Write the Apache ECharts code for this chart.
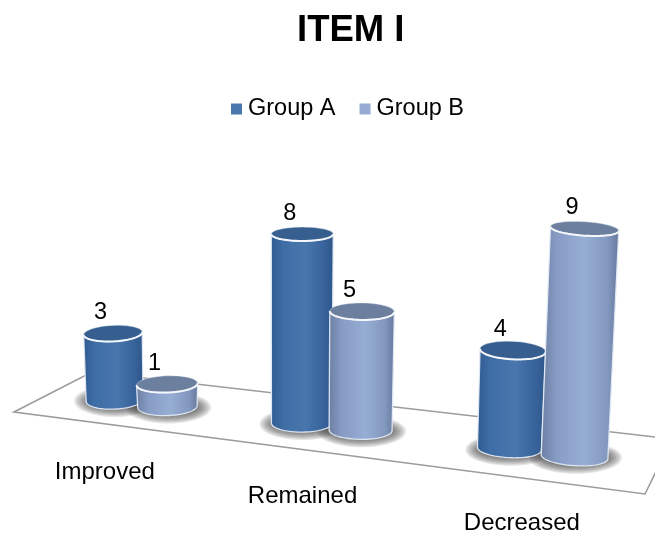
<!DOCTYPE html>
<html><head><meta charset="utf-8">
<style>html,body{margin:0;padding:0;background:#fff}#c{width:655px;height:536px}</style>
<script src="https://cdn.jsdelivr.net/npm/echarts@6/dist/echarts.min.js"></script>
</head><body><div id="c"></div>
<script>
var categories = ['Improved', 'Remained', 'Decreased'];
var groupA = [3, 8, 4];
var groupB = [1, 5, 9];
var titleText = 'ITEM I';
var FONT = '"Liberation Sans", Arial, sans-serif';

// perspective projection of the flat cartesian grid onto the tilted floor
function warpX(x){ return x + 2.6e-4*(x-140)*(x-540) + 0.0025*(x-140) + 0.8; }
function floorY(x){ return 386 + 0.123*x; }
function heightScale(x){ return 0.97 + 0.00025*(x-114); }
function pt(cx,cy,rx,ry,r,t){
  return [cx + rx*Math.cos(t)*Math.cos(r) - ry*Math.sin(t)*Math.sin(r),
          cy + rx*Math.cos(t)*Math.sin(r) + ry*Math.sin(t)*Math.cos(r)];
}
function arc(cx,cy,rx,ry,r,a,b){
  var out=[], n=48;
  for(var i=0;i<=n;i++) out.push(pt(cx,cy,rx,ry,r,a+(b-a)*i/n));
  return out;
}
function project(api, side){
  var p = api.coord([api.value(0), api.value(1)]);
  var p0 = api.coord([api.value(0), 0]);
  var x = warpX(p[0] + side*api.size([1,0])[0]*0.147);
  var h0 = (p0[1]-p[1])*heightScale(x);
  var h = h0*(1+(h0-100)*0.00012);
  var base = floorY(x);
  var w = 57 + 0.018*(x-114) + (side>0?1.5:0);
  return {x:x, h:h, base:base, w:w, rot:(x-310)*0.014*Math.PI/180,
          topX:x+(x-280)*h*1.5e-4, topY:base-h};
}
function cylinder(side, stops, topColor){
  return function(params, api){
    var g = project(api, side);
    var rxB = g.w/2, rxT = g.w/2+0.8;
    var ryB = 9, ryT = 0.14*g.w*(1-Math.max(0,g.h-100)*0.002);
    var bottom = arc(g.x,g.base,rxB,ryB,g.rot,0,Math.PI);
    var topFront = arc(g.topX,g.topY,rxT,ryT,g.rot,Math.PI,0);
    var topAll = arc(g.topX,g.topY,rxT,ryT,g.rot,0,Math.PI*2);
    return {type:'group', children:[
      {type:'polygon', shape:{points:bottom.concat(topFront)},
       style:{fill:new echarts.graphic.LinearGradient(0,0,1,0,stops),
              stroke:'rgba(225,234,244,0.95)', lineWidth:1.3}},
      {type:'polygon', shape:{points:topAll}, style:{fill:topColor, stroke:'rgba(225,234,244,0.5)', lineWidth:0.8}},
      {type:'polyline', shape:{points:topFront}, style:{fill:null, stroke:'#f4f7fb', lineWidth:2}},
      {type:'text', style:{text:String(api.value(1)), x:g.topX-12.5, y:g.topY-21, fill:'#000',
        font:'23.5px '+FONT, textAlign:'center', textVerticalAlign:'middle', align:'center', verticalAlign:'middle'}}
    ]};
  };
}
function shadow(side){
  return function(params, api){
    var g = project(api, side), rings = [];
    for (var k = 0; k < 8; k++) {
      rings.push({type:'ellipse', shape:{cx:g.x+1, cy:g.base+1, rx:g.w/2+13-k*2, ry:16-k*1.2},
        style:{fill:'rgba(60,60,60,0.13)'}});
    }
    return {type:'group', children:rings};
  };
}
function catLabel(params, api){
  var x = warpX(api.coord([api.value(0),0])[0]);
  var lx = x - 36 + 0.04*(x-140);
  return {type:'text', style:{text:categories[api.value(0)], x:lx, y:floorY(lx)+73, fill:'#000',
    font:'24px '+FONT, textAlign:'center', textVerticalAlign:'middle', align:'center', verticalAlign:'middle'}};
}
var rowsA = groupA.map(function(v,i){return [i,v];});
var rowsB = groupB.map(function(v,i){return [i,v];});
var stopsA = [{offset:0,color:'#2f5b90'},{offset:0.2,color:'#3f6da5'},{offset:0.55,color:'#4876ad'},{offset:0.85,color:'#37629a'},{offset:1,color:'#2d5788'}];
var stopsB = [{offset:0,color:'#6b7da1'},{offset:0.2,color:'#879cc4'},{offset:0.55,color:'#96add4'},{offset:0.85,color:'#8398bf'},{offset:1,color:'#65779a'}];
var COLOR_A = '#4876ad', COLOR_B = '#95abd3';
function mk(name, data, fn, z, color){
  return {name:name, type:'custom', data:data, renderItem:fn, z:z, silent:true,
    encode:{x:0,y:1}, itemStyle:{color:color}, clip:false};
}
var chart = echarts.init(document.getElementById('c'), null, {renderer:'canvas'});
chart.setOption({
  animation:false,
  backgroundColor:'#fff',
  title:{text:titleText, left:292, top:7, textStyle:{fontFamily:FONT, fontWeight:'bold', fontSize:36.5, color:'#000'}},
  legend:{data:['Group A','Group B'], left:226, top:92, icon:'rect', itemWidth:11, itemHeight:11, itemGap:24, selectedMode:false,
    textStyle:{fontFamily:FONT, fontSize:23.5, color:'#000', padding:[0,0,0,1]}},
  grid:{left:40, width:600, top:100, height:230},
  xAxis:{type:'category', data:categories, show:false},
  yAxis:{type:'value', min:0, max:10, show:false},
  graphic:[{type:'polygon', z:0, silent:true,
    shape:{points:[[14,412],[92,372],[672,439],[645,494]]},
    style:{fill:'#fff', stroke:'#9c9c9c', lineWidth:1.6}}],
  series:[
    mk('shadowA', rowsA, shadow(-1), 1, '#888'),
    mk('shadowB', rowsB, shadow(1), 1, '#888'),
    mk('Group A', rowsA, cylinder(-1, stopsA, '#365f8f'), 2, COLOR_A),
    mk('Group B', rowsB, cylinder(1, stopsB, '#6d7f9f'), 3, COLOR_B),
    mk('labels', categories.map(function(c,i){return [i,0];}), catLabel, 4, '#000')
  ]
});
</script></body></html>
